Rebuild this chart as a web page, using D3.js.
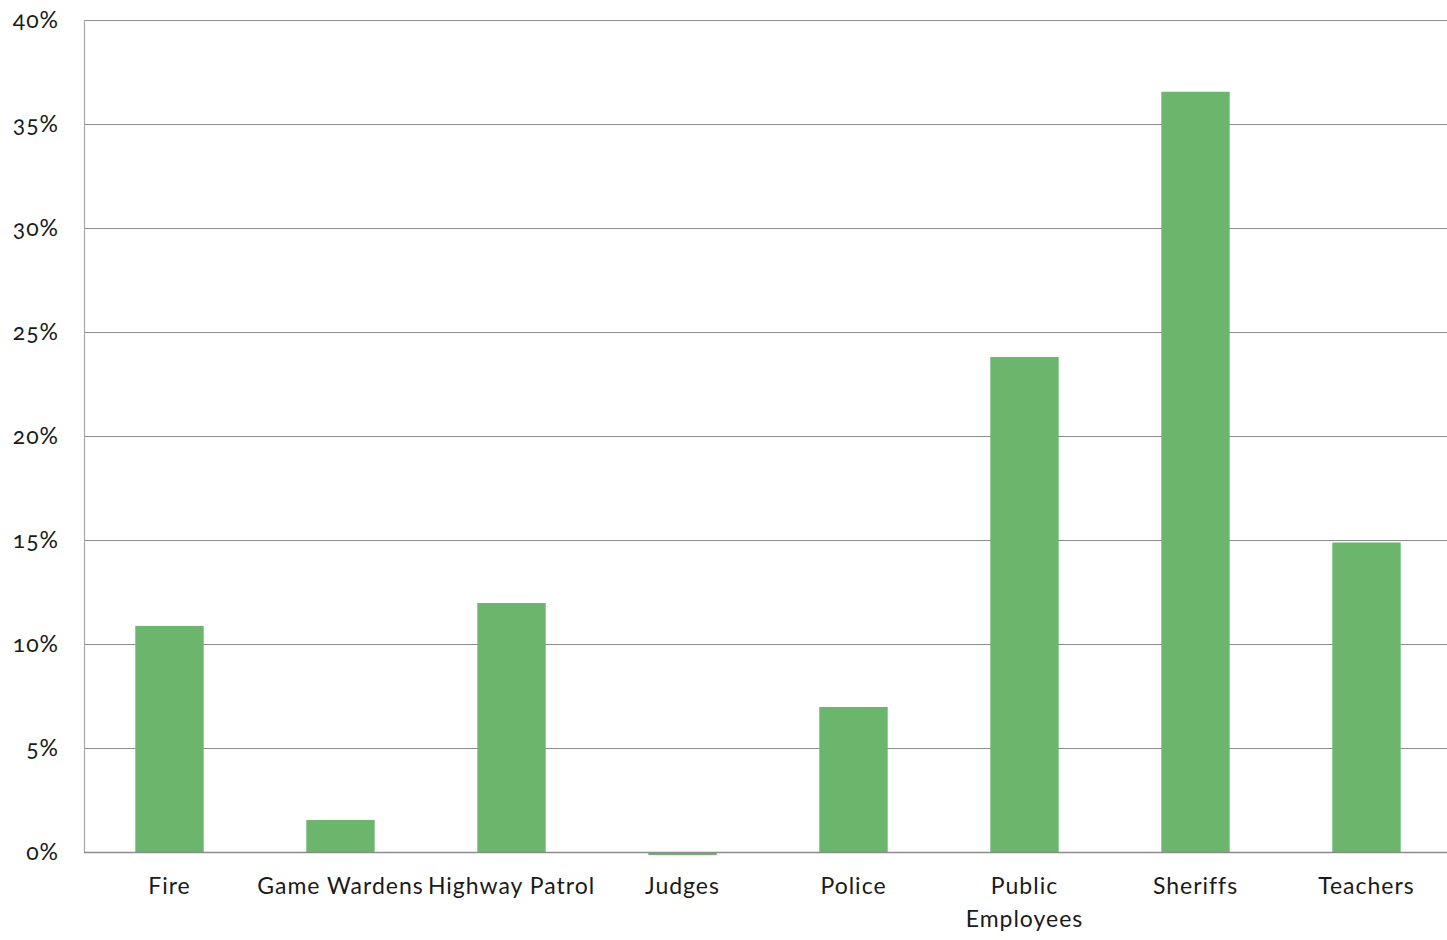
<!DOCTYPE html>
<html>
<head>
<meta charset="utf-8">
<script src="https://cdn.jsdelivr.net/npm/d3@7"></script>
<style>
  html, body { margin: 0; padding: 0; background: #fff; overflow: hidden; }
  svg { display: block; font-family: Lato, "Open Sans", sans-serif; }
  .lbl { font-variant-numeric: oldstyle-nums; font-feature-settings: "onum" 1; }
</style>
</head>
<body>
<svg id="chart" width="1447" height="940"></svg>
<script>
// Share of members, by retirement system
const categories = ["Fire", "Game Wardens", "Highway Patrol", "Judges", "Police",
                    "Public\nEmployees", "Sheriffs", "Teachers"];
const values = [10.87, 1.54, 11.97, -0.15, 6.97, 23.8, 36.55, 14.88];
const yTicks = [0, 5, 10, 15, 20, 25, 30, 35, 40];

const svg = d3.select("#chart");
const W = 1447, H = 940;
const margin = { left: 84, top: 20, bottom: 88 };
const step = 171;

const x = d3.scaleBand()
  .domain(categories)
  .range([margin.left, margin.left + step * categories.length])
  .paddingInner(0.6)
  .paddingOuter(0.3);

const y = d3.scaleLinear()
  .domain([0, 40])
  .range([H - margin.bottom, margin.top]);

// horizontal gridlines
svg.append("g")
  .selectAll("line")
  .data(yTicks.filter(d => d > 0))
  .join("line")
  .attr("x1", margin.left)
  .attr("x2", W)
  .attr("y1", d => Math.round(y(d)) + 0.5)
  .attr("y2", d => Math.round(y(d)) + 0.5)
  .attr("stroke", "#8c8c8c")
  .attr("stroke-width", 1);

// y axis labels
const yAxis = d3.axisLeft(y)
  .tickValues(yTicks)
  .tickSize(0)
  .tickPadding(25)
  .tickFormat(d => d + "%");
const gy = svg.append("g")
  .attr("transform", `translate(${margin.left},0)`)
  .call(yAxis);
gy.select(".domain").remove();
gy.selectAll("text")
  .attr("class", "lbl")
  .attr("font-size", 23)
  .attr("letter-spacing", 1)
  .attr("fill", "#1a1a1a")
  .attr("font-family", "Lato, 'Open Sans', sans-serif");

svg.append("line")
  .attr("x1", margin.left + 0.5).attr("x2", margin.left + 0.5)
  .attr("y1", y(40)).attr("y2", y(0))
  .attr("stroke", "#a6a6a6").attr("stroke-width", 1.2);

// bars
svg.append("g")
  .selectAll("rect")
  .data(values)
  .join("rect")
  .attr("x", (d, i) => x(categories[i]))
  .attr("width", x.bandwidth())
  .attr("y", d => y(Math.max(0, d)))
  .attr("height", d => Math.abs(y(d) - y(0)))
  .attr("fill", "#6bb56d");

// zero baseline
svg.append("line")
  .attr("x1", margin.left).attr("x2", W)
  .attr("y1", Math.round(y(0)) + 0.5).attr("y2", Math.round(y(0)) + 0.5)
  .attr("stroke", "#8c8c8c").attr("stroke-width", 1.3);

// category labels
const xLabels = svg.append("g")
  .selectAll("text")
  .data(categories)
  .join("text")
  .attr("x", d => x(d) + x.bandwidth() / 2)
  .attr("y", y(0) + 42)
  .attr("text-anchor", "middle")
  .attr("font-size", 23)
  .attr("letter-spacing", 1)
  .attr("fill", "#1a1a1a");
xLabels.each(function (d) {
  const t = d3.select(this);
  d.split("\n").forEach((ln, k) => {
    t.append("tspan")
      .attr("x", x(d) + x.bandwidth() / 2)
      .attr("dy", k === 0 ? 0 : 33)
      .text(ln);
  });
});
</script>
</body>
</html>
